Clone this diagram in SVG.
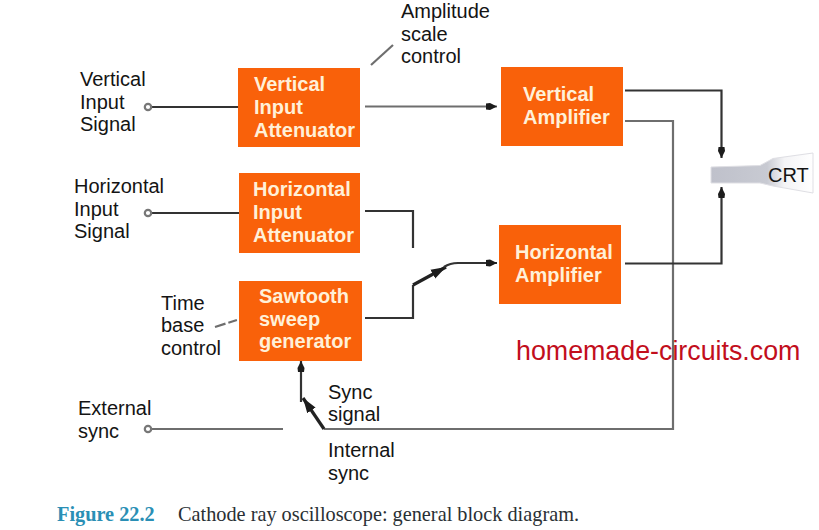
<svg xmlns="http://www.w3.org/2000/svg" width="819" height="530" viewBox="0 0 819 530">
<style>
.l{font-family:"Liberation Sans",Arial,sans-serif;font-size:20px;fill:#141414}
.b{font-family:"Liberation Sans",Arial,sans-serif;font-size:20px;font-weight:bold;fill:#fff0d8}
.box{fill:#f9610a}
.c{fill:none;stroke:#333;stroke-width:2.2}
.g{fill:none;stroke:#6e6e6e;stroke-width:2.2}
.p{fill:#fff;stroke:#777;stroke-width:2.2}
.t{font-family:"Liberation Serif","Times New Roman",serif;font-size:20.300px}
</style>
<defs>
<marker id="a" markerWidth="12" markerHeight="10" refX="11" refY="5" orient="auto" markerUnits="userSpaceOnUse"><path d="M0 2L4 1.500L11 5L4 8.500L0 8Z" fill="#1c1c1c"/></marker>
<marker id="d" markerWidth="16" markerHeight="12" refX="15" refY="6" orient="auto" markerUnits="userSpaceOnUse"><path d="M0 1L15 6L0 11Z" fill="#1c1c1c"/></marker>
<linearGradient id="crt" x1="0" x2="1" y1="0" y2="0"><stop offset="0" stop-color="#bfc1cb"/><stop offset=".55" stop-color="#c8cad2"/><stop offset=".72" stop-color="#f4f4f6"/><stop offset="1" stop-color="#fff"/></linearGradient>
</defs>
<rect width="819" height="530" fill="#fff"/>
<g id="connectors">
<path class="c" d="M152 107H238"/>
<path class="c" d="M152 213H239"/>
<path class="g" d="M152 429H283"/>
<path class="g" d="M365 106.500H497" marker-end="url(#a)"/>
<path class="c" d="M625 90.500H721.500V158" stroke-width="2.500" marker-end="url(#a)"/>
<path class="g" d="M625 121H673V429H324"/>
<path class="c" d="M625 263.500H721.500V187" marker-end="url(#a)"/>
<path class="c" d="M365 211H413V248"/>
<path class="c" d="M365 318H413V285"/>
<path d="M413 285L446 267" fill="none" stroke="#222" stroke-width="3.200" marker-end="url(#d)"/>
<path class="c" d="M444 267Q450 263 458 263H497" marker-end="url(#a)"/>
<path d="M324 429L303 398" fill="none" stroke="#222" stroke-width="3.200" marker-end="url(#d)"/>
<path class="c" d="M301 402V361" marker-end="url(#a)"/>
<path class="g" d="M371 65L393 45"/>
<path class="g" d="M215 327L237 320" stroke-dasharray="11 3 9"/>
</g>
<g id="input-vertical"><circle class="p" cx="148" cy="107" r="3.200"/><text class="l" x="80" y="86">Vertical</text><text class="l" x="80" y="109">Input</text><text class="l" x="80" y="131">Signal</text></g>
<g id="input-horizontal"><circle class="p" cx="148" cy="213" r="3.200"/><text class="l" x="74" y="193">Horizontal</text><text class="l" x="74" y="216">Input</text><text class="l" x="74" y="238">Signal</text></g>
<g id="input-external"><circle class="p" cx="148" cy="429" r="3.200"/><text class="l" x="78" y="415">External</text><text class="l" x="78" y="438">sync</text></g>
<g id="vertical-attenuator"><rect class="box" x="238" y="68" width="122" height="79"/><text class="b" x="254" y="91">Vertical</text><text class="b" x="254" y="114">Input</text><text class="b" x="254" y="137">Attenuator</text></g>
<g id="horizontal-attenuator"><rect class="box" x="239" y="173" width="121" height="80"/><text class="b" x="253" y="196">Horizontal</text><text class="b" x="253" y="219">Input</text><text class="b" x="253" y="242">Attenuator</text></g>
<g id="sawtooth-generator"><rect class="box" x="239" y="281" width="123" height="80"/><text class="b" x="259" y="303">Sawtooth</text><text class="b" x="259" y="326">sweep</text><text class="b" x="259" y="348">generator</text></g>
<g id="vertical-amplifier"><rect class="box" x="501" y="67" width="122" height="79"/><text class="b" x="523" y="101">Vertical</text><text class="b" x="523" y="124">Amplifier</text></g>
<g id="horizontal-amplifier"><rect class="box" x="499" y="225" width="122" height="79"/><text class="b" x="515" y="259">Horizontal</text><text class="b" x="515" y="282">Amplifier</text></g>
<g id="crt-tube"><path d="M711 167L760 165.500L773 158.500L813 153L813 193L773 186L760 183L711 183Z" fill="url(#crt)" stroke="#dfdfe4" stroke-width="1"/><text class="l" x="768" y="182">CRT</text></g>
<g id="labels">
<text class="l" x="401" y="18">Amplitude</text><text class="l" x="401" y="41">scale</text><text class="l" x="401" y="63">control</text>
<text class="l" x="161" y="310">Time</text><text class="l" x="161" y="332">base</text><text class="l" x="161" y="355">control</text>
<text class="l" x="328" y="399">Sync</text><text class="l" x="328" y="421">signal</text>
<text class="l" x="328" y="457">Internal</text><text class="l" x="328" y="480">sync</text>
<text x="516" y="360" font-family="Liberation Sans,Arial,sans-serif" font-size="26.800px" fill="#c20e1c">homemade-circuits.com</text>
<text class="t" x="57" y="521" font-weight="bold" fill="#2a8fb5">Figure 22.2</text>
<text class="t" x="178" y="521" fill="#2a3034">Cathode ray oscilloscope: general block diagram.</text>
</g>
</svg>
